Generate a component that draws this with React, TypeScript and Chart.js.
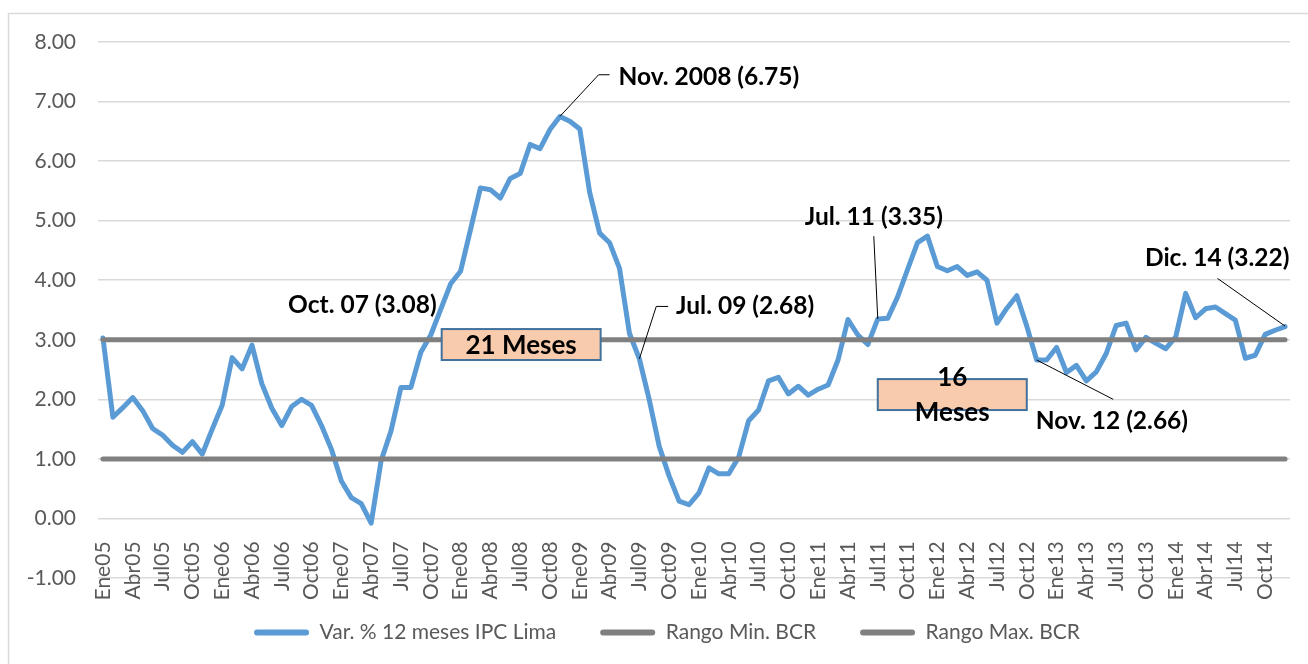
import React, { useEffect, useRef } from "react";
import { Chart, registerables } from "chart.js";

Chart.register(...registerables);

// ---- data ----
const MONTHS = ["Ene", "Feb", "Mar", "Abr", "May", "Jun", "Jul", "Ago", "Set", "Oct", "Nov", "Dic"];
const YEARS = ["05", "06", "07", "08", "09", "10", "11", "12", "13", "14"];
const categories = YEARS.flatMap((y) => MONTHS.map((m) => m + y));

const ipc2005 = [3.03, 1.70, 1.86, 2.03, 1.81, 1.51, 1.40, 1.23, 1.11, 1.29, 1.08, 1.50];
const ipc2006 = [1.90, 2.70, 2.51, 2.91, 2.26, 1.85, 1.56, 1.88, 2.00, 1.90, 1.56, 1.16];
const ipc2007 = [0.63, 0.35, 0.25, -0.08, 0.97, 1.47, 2.20, 2.20, 2.79, 3.08, 3.51, 3.94];
const ipc2008 = [4.15, 4.85, 5.55, 5.52, 5.38, 5.71, 5.79, 6.28, 6.21, 6.53, 6.75, 6.67];
const ipc2009 = [6.54, 5.47, 4.79, 4.63, 4.20, 3.11, 2.68, 1.99, 1.21, 0.71, 0.29, 0.23];
const ipc2010 = [0.43, 0.85, 0.75, 0.75, 1.03, 1.64, 1.82, 2.31, 2.37, 2.09, 2.22, 2.07];
const ipc2011 = [2.17, 2.24, 2.66, 3.34, 3.08, 2.92, 3.35, 3.36, 3.72, 4.18, 4.63, 4.74];
const ipc2012 = [4.23, 4.16, 4.23, 4.08, 4.14, 4.00, 3.28, 3.53, 3.74, 3.23, 2.66, 2.66];
const ipc2013 = [2.87, 2.45, 2.57, 2.31, 2.46, 2.77, 3.24, 3.28, 2.83, 3.04, 2.94, 2.85];
const ipc2014 = [3.05, 3.78, 3.37, 3.52, 3.55, 3.44, 3.33, 2.69, 2.74, 3.09, 3.16, 3.22];
const ipcLima = [
  ...ipc2005, ...ipc2006, ...ipc2007, ...ipc2008, ...ipc2009,
  ...ipc2010, ...ipc2011, ...ipc2012, ...ipc2013, ...ipc2014,
];

const rangoMin = 1.0;
const rangoMax = 3.0;

const seriesLabels = ["Var. % 12 meses IPC Lima", "Rango Min. BCR", "Rango Max. BCR"];

// annotations in data units: [category index, value]
const noteTexts: { text: string; at: [number, number]; align: CanvasTextAlign }[] = [
  { text: "Oct. 07 (3.08)", at: [33.6, 3.58], align: "right" },
  { text: "Nov. 2008 (6.75)", at: [51.9, 7.41], align: "left" },
  { text: "Jul. 09 (2.68)", at: [57.7, 3.56], align: "left" },
  { text: "Jul. 11 (3.35)", at: [77.6, 5.06], align: "center" },
  { text: "Nov. 12 (2.66)", at: [93.9, 1.63], align: "left" },
  { text: "Dic. 14 (3.22)", at: [104.9, 4.37], align: "left" },
];
const leaderLines: [number, number][][] = [
  [[46, 6.75], [49.9, 7.45], [51.0, 7.45]],
  [[54, 2.68], [55.7, 3.56], [56.9, 3.56]],
  [[77.6, 4.74], [78, 3.35]],
  [[94, 2.66], [101.7, 2.0]],
  [[112.2, 4.03], [119, 3.23]],
];
const noteBoxes: { x: [number, number]; y: [number, number]; lines: [string, number][] }[] = [
  { x: [34.1, 50.1], y: [2.66, 3.18], lines: [["21 Meses", 2.91]] },
  { x: [78.0, 93.0], y: [1.82, 2.34], lines: [["16", 2.37], ["Meses", 1.78]] },
];

const BLUE = "#5B9BD5";
const GRAY = "#808080";
const TICK = "#595959";
const FONT = "Lato";

const annotationPlugin = {
  id: "notes",
  afterLayout(chart: any) {
    const lg = chart.legend;
    if (lg) {
      lg.left += 8;
      lg.right += 8;
    }
  },
  beforeDraw(chart: any) {
    const { ctx } = chart;
    ctx.save();
    ctx.fillStyle = "#ffffff";
    ctx.fillRect(0, 0, chart.width, chart.height);
    ctx.strokeStyle = "#D9D9D9";
    ctx.lineWidth = 1.5;
    ctx.strokeRect(8.5, 13.5, chart.width + 50, chart.height + 50);
    ctx.restore();
  },
  afterDatasetsDraw(chart: any) {
    const { ctx } = chart;
    const xs = chart.scales.x;
    const ys = chart.scales.y;
    const px = (i: number) => xs.getPixelForValue(i);
    const py = (v: number) => ys.getPixelForValue(v);
    ctx.save();
    // leader lines
    ctx.strokeStyle = "#000000";
    ctx.lineWidth = 1;
    leaderLines.forEach((pts) => {
      ctx.beginPath();
      pts.forEach(([i, v], k) => {
        if (k === 0) ctx.moveTo(px(i), py(v));
        else ctx.lineTo(px(i), py(v));
      });
      ctx.stroke();
    });
    // boxes
    noteBoxes.forEach((b) => {
      const x0 = px(b.x[0]);
      const x1 = px(b.x[1]);
      const y0 = py(b.y[1]);
      const y1 = py(b.y[0]);
      ctx.fillStyle = "#F8CBAD";
      ctx.fillRect(x0, y0, x1 - x0, y1 - y0);
      ctx.strokeStyle = "#41719C";
      ctx.lineWidth = 2;
      ctx.strokeRect(x0, y0, x1 - x0, y1 - y0);
      ctx.fillStyle = "#000000";
      ctx.font = `bold 26px ${FONT}`;
      ctx.textAlign = "center";
      ctx.textBaseline = "middle";
      b.lines.forEach(([t, v]) => ctx.fillText(t, (x0 + x1) / 2, py(v)));
    });
    // texts
    ctx.fillStyle = "#000000";
    ctx.font = `bold 24.5px ${FONT}`;
    ctx.textBaseline = "middle";
    noteTexts.forEach((n) => {
      ctx.textAlign = n.align;
      ctx.fillText(n.text, px(n.at[0]), py(n.at[1]));
    });
    ctx.restore();
  },
};

export default function App() {
  const ref = useRef<HTMLCanvasElement>(null);
  useEffect(() => {
    if (!ref.current) return;
    const chart = new Chart(ref.current, {
      type: "line",
      data: {
        labels: categories,
        datasets: [
          {
            label: seriesLabels[0],
            data: ipcLima,
            borderColor: BLUE,
            backgroundColor: BLUE,
            borderWidth: 5,
            pointRadius: 0,
            borderJoinStyle: "round",
            borderCapStyle: "round",
            tension: 0,
            order: 1,
          },
          {
            label: seriesLabels[1],
            data: categories.map(() => rangoMin),
            borderColor: GRAY,
            backgroundColor: GRAY,
            borderWidth: 5,
            pointRadius: 0,
            borderCapStyle: "round",
            order: 0,
          },
          {
            label: seriesLabels[2],
            data: categories.map(() => rangoMax),
            borderColor: GRAY,
            backgroundColor: GRAY,
            borderWidth: 5,
            pointRadius: 0,
            borderCapStyle: "round",
            order: 0,
          },
        ],
      },
      options: {
        responsive: false,
        animation: false,
        devicePixelRatio: 1,
        layout: { padding: { left: 28, right: 18, top: 42, bottom: 11 } },
        plugins: {
          tooltip: { enabled: false },
          legend: {
            position: "bottom",
            labels: {
              font: { family: FONT, size: 21 },
              color: TICK,
              boxWidth: 55,
              boxHeight: 6,
              padding: 44,
              generateLabels: (c: any) =>
                c.data.datasets.map((ds: any, i: number) => ({
                  text: ds.label,
                  fillStyle: ds.borderColor,
                  strokeStyle: ds.borderColor,
                  lineWidth: 0,
                  hidden: false,
                  datasetIndex: i,
                  borderRadius: 3,
                  fontColor: TICK,
                })),
            },
          },
        },
        scales: {
          x: {
            type: "category",
            offset: true,
            position: { y: 0 } as any,
            grid: { display: false },
            border: { display: false },
            afterFit: (s: any) => {
              s.paddingLeft = 0;
              s.paddingRight = 0;
            },
            ticks: {
              autoSkip: false,
              minRotation: 90,
              maxRotation: 90,
              padding: 15,
              color: TICK,
              font: { family: FONT, size: 21 },
              callback: (_v: any, idx: number) => (idx % 3 === 0 ? categories[idx] : ""),
            },
          },
          y: {
            min: -1,
            max: 8,
            ticks: {
              stepSize: 1,
              padding: 22,
              color: TICK,
              font: { family: FONT, size: 21 },
              callback: (v: any) => Number(v).toFixed(2),
            },
            grid: { color: "#D9D9D9", lineWidth: 1.5, drawTicks: false },
            border: { display: false },
            afterFit: (s: any) => {
              s.width = 70;
            },
          },
        },
      },
      plugins: [annotationPlugin],
    });
    return () => chart.destroy();
  }, []);
  return (
    <div style={{ position: "fixed", left: 0, top: 0, width: 1308, height: 664, background: "#fff" }}>
      <canvas ref={ref} width={1308} height={664} style={{ display: "block" }} />
    </div>
  );
}
